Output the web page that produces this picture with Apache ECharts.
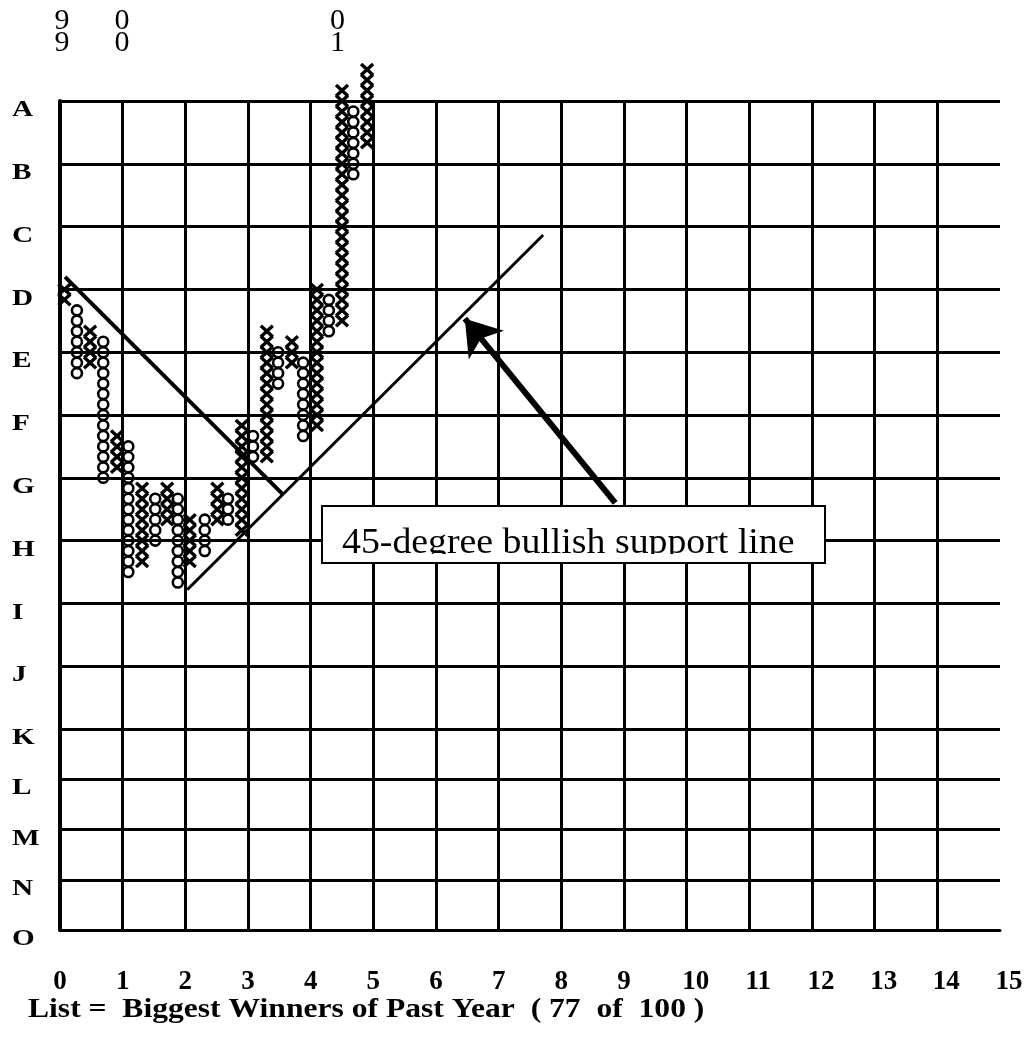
<!DOCTYPE html>
<html><head><meta charset="utf-8">
<script src="https://cdn.jsdelivr.net/npm/echarts@6/dist/echarts.min.js"></script>
<style>html,body{margin:0;padding:0;background:#fff}#c{width:1032px;height:1042px}</style>
</head><body><div id="c"></div>
<script>
// ---------- data ----------
const rowLetters = ['A','B','C','D','E','F','G','H','I','J','K','L','M','N','O'];
const xTickLabels = ['0','1','2','3','4','5','6','7','8','9','10','11','12','13','14','15'];
// point & figure columns (x position on the 0-15 scale, box index: A line = 0, 6 boxes per row)
const colType   = ['X','O','X','O','X','O','X','O','X','O','X','O','X','O','X','O','X','O','X','O','X','O','X','O','X'];
const colX      = [0.07,0.27,0.48,0.69,0.91,1.09,1.31,1.52,1.71,1.88,2.07,2.31,2.51,2.68,2.90,3.08,3.30,3.48,3.70,3.88,4.10,4.29,4.50,4.68,4.90];
const colTop    = [18,20,22,23,32,33,37,38,37,38,40,40,37,38,31,32,22,24,23,25,18,19,-1, 1,-3];
const colBottom = [19,26,25,36,35,45,44,42,40,46,44,43,40,40,41,34,34,27,25,32,31,22,21, 7, 4];
// year markers
const yearLabels = ['9\n9','0\n0','0\n1'];
const yearX      = [0.03, 0.99, 4.43];
// trend lines & arrow (x, box)
const resistLine = [[0.08,16.8],[3.56,37.6]];
const supportLine = [[2.03,46.7],[7.71,12.8]];
const arrowLine = [[8.86,38.4],[6.46,20.8]];
const noteText = '45-degree bullish support line';
const footText = 'List =  Biggest Winners of Past Year  ( 77  of  100 )';

// ---------- chart ----------
const chart = echarts.init(document.getElementById('c'));
const serif = "'Liberation Serif', 'Times New Roman', serif";
const pfData = colX.map((x,i)=>[x, colTop[i], colBottom[i], colType[i]==='X'?1:0]);
const gridLine = {color:'#000', width:3};

chart.setOption({
  animation:false,
  backgroundColor:'#fff',
  grid:[{left:60, top:101, width:940, height:628},{left:60, top:729, width:940, height:201}],
  xAxis:[
    {gridIndex:0, type:'value', min:0, max:15, interval:1,
     axisLine:{show:false}, axisTick:{show:false}, axisLabel:{show:false},
     splitLine:{show:true, showMaxLine:false, lineStyle:gridLine}},
    {gridIndex:1, type:'value', min:0, max:15, interval:1,
     axisLine:{show:true, lineStyle:gridLine}, axisTick:{show:false},
     axisLabel:{show:true, margin:39, color:'#000', fontFamily:serif, fontWeight:'bold', fontSize:27,
       verticalAlign:'top', align:'center',
       formatter:v=>{const s=xTickLabels[v]; return s.length>1?'{w|'+s+'}':s;},
       rich:{w:{fontFamily:serif, fontWeight:'bold', fontSize:27, color:'#000', padding:[0,0,0,18]}}},
     splitLine:{show:true, showMaxLine:false, lineStyle:gridLine}}
  ],
  yAxis:[
    {gridIndex:0, type:'value', min:0, max:60, interval:6, inverse:true,
     axisLine:{show:true, lineStyle:{color:'#000', width:4}}, axisTick:{show:false},
     axisLabel:{show:false},
     splitLine:{show:true, lineStyle:gridLine}},
    {gridIndex:1, type:'value', min:10, max:14, interval:1, inverse:true,
     axisLine:{show:true, lineStyle:{color:'#000', width:4}}, axisTick:{show:false},
     axisLabel:{show:false},
     splitLine:{show:true, lineStyle:gridLine}}
  ],
  series:[
    {type:'custom', xAxisIndex:0, yAxisIndex:0, data:pfData, clip:false, z:4, silent:true,
     renderItem:(params, api)=>{
       const x=api.value(0), t=api.value(1), b=api.value(2), isX=api.value(3)===1;
       const ch=[];
       for(let k=t;k<=b;k++){
         const p=api.coord([x,k]);
         if(isX){
           ch.push({type:'line', shape:{x1:p[0]-6,y1:p[1]-5.5,x2:p[0]+6,y2:p[1]+5.5}, style:{stroke:'#000', lineWidth:3.4}});
           ch.push({type:'line', shape:{x1:p[0]-6,y1:p[1]+5.5,x2:p[0]+6,y2:p[1]-5.5}, style:{stroke:'#000', lineWidth:3.4}});
         } else {
           ch.push({type:'circle', shape:{cx:p[0], cy:p[1], r:5}, style:{fill:'none', stroke:'#000', lineWidth:2.6}});
         }
       }
       return {type:'group', children:ch};
     }},
    {type:'line', xAxisIndex:0, yAxisIndex:0, data:resistLine, symbol:'none', silent:true, z:5,
     lineStyle:{color:'#000', width:4}},
    {type:'line', xAxisIndex:0, yAxisIndex:0, data:supportLine, symbol:'none', silent:true, z:5,
     lineStyle:{color:'#000', width:3}},
    {type:'lines', coordinateSystem:'cartesian2d', xAxisIndex:0, yAxisIndex:0, silent:true, z:6,
     data:[{coords:arrowLine}], symbol:['none','arrow'], symbolSize:34,
     lineStyle:{color:'#000', width:6, opacity:1}}
  ]
});

const yearGraphics = yearLabels.map((s,i)=>({
  type:'text', x:chart.convertToPixel({xAxisIndex:0}, yearX[i]), y:10, z:10,
  style:{text:s, font:"30px "+serif, lineHeight:22, fill:'#000', textAlign:'center', textVerticalAlign:'top'}
}));
const rowGraphics = rowLetters.map((s,i)=>{
  const py = i<=10 ? chart.convertToPixel({yAxisIndex:0}, i*6) : chart.convertToPixel({yAxisIndex:1}, i);
  return {type:'text', x:12, y:py+9, scaleX:1.22, z:10,
    style:{text:s, font:"bold 24px "+serif, fill:'#000', textAlign:'left', textVerticalAlign:'middle'}};
});

chart.setOption({graphic:[
  ...yearGraphics,
  ...rowGraphics,
  {type:'rect', z:20, shape:{x:322, y:506, width:503, height:57}, style:{fill:'#fff', stroke:null}},
  {type:'text', z:21, x:342, y:526, scaleX:1.05, style:{text:noteText, font:"36px "+serif, fill:'#000', textVerticalAlign:'top'}},
  {type:'rect', z:22, shape:{x:323, y:554, width:501, height:8}, style:{fill:'#fff'}},
  {type:'rect', z:23, shape:{x:322, y:506, width:503, height:57}, style:{fill:'none', stroke:'#000', lineWidth:2}},
  {type:'text', z:10, x:28, y:997, scaleX:1.17, style:{text:footText, font:"bold 27px "+serif, fill:'#000', textVerticalAlign:'top'}}
]});
</script></body></html>
